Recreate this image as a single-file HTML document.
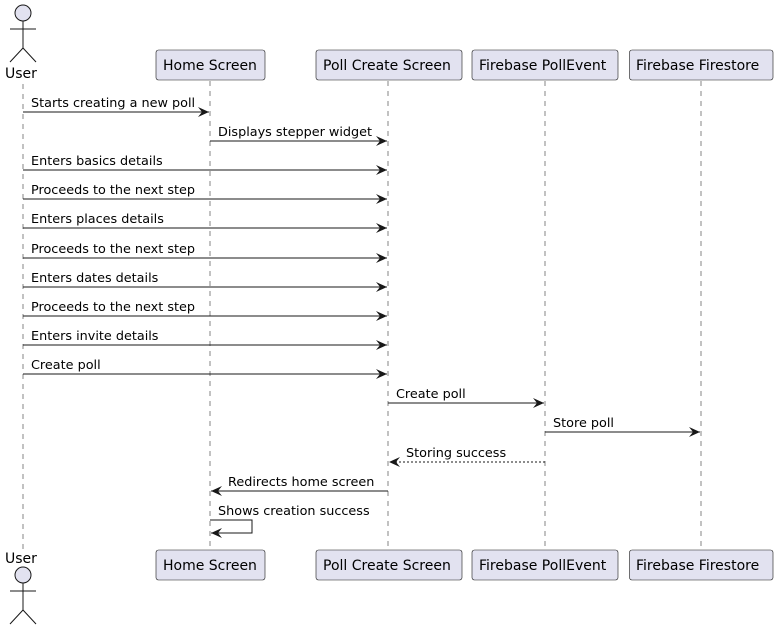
<!DOCTYPE html>
<html><head><meta charset="utf-8"><style>
html,body{margin:0;padding:0;background:#fff;}
svg{display:block;}
text{font-family:"DejaVu Sans","Liberation Sans",sans-serif;font-size:12.8px;fill:#000;}
</style></head><body>
<svg width="778" height="631" viewBox="0 0 778 631" xmlns="http://www.w3.org/2000/svg">
<defs>
<marker id="a" markerWidth="12" markerHeight="10" refX="11" refY="5" orient="auto" markerUnits="userSpaceOnUse">
<path d="M0,0 L11,5 L0,10 L4,5 Z" fill="#181818"/>
</marker>
</defs>
<g stroke="#666" stroke-width="0.8" stroke-dasharray="5,5" fill="none">
<line x1="23" y1="84" x2="23" y2="550"/>
<line x1="210" y1="81" x2="210" y2="550"/>
<line x1="388" y1="81" x2="388" y2="550"/>
<line x1="545" y1="81" x2="545" y2="550"/>
<line x1="701" y1="81" x2="701" y2="550"/>
</g>
<g fill="#E2E2F0" stroke="#181818" stroke-width="0.6">
<rect x="156" y="50" width="109" height="30" rx="2.5"/>
<rect x="316" y="50" width="146" height="30" rx="2.5"/>
<rect x="472" y="50" width="146" height="30" rx="2.5"/>
<rect x="629.5" y="50" width="143.5" height="30" rx="2.5"/>
<rect x="156" y="550" width="109" height="30" rx="2.5"/>
<rect x="316" y="550" width="146" height="30" rx="2.5"/>
<rect x="472" y="550" width="146" height="30" rx="2.5"/>
<rect x="629.5" y="550" width="143.5" height="30" rx="2.5"/>
</g>
<g>
<text x="163" y="70" style="font-size:14px">Home Screen</text>
<text x="323" y="70" style="font-size:14px">Poll Create Screen</text>
<text x="479" y="70" style="font-size:14px">Firebase PollEvent</text>
<text x="636" y="70" style="font-size:14px">Firebase Firestore</text>
<text x="163" y="570" style="font-size:14px">Home Screen</text>
<text x="323" y="570" style="font-size:14px">Poll Create Screen</text>
<text x="479" y="570" style="font-size:14px">Firebase PollEvent</text>
<text x="636" y="570" style="font-size:14px">Firebase Firestore</text>
<text x="5" y="78" style="font-size:14px">User</text>
<text x="5" y="563" style="font-size:14px">User</text>
</g>
<g stroke="#181818" stroke-width="1" fill="none">
<circle cx="23" cy="13" r="8" fill="#E2E2F0"/>
<line x1="23" y1="21" x2="23" y2="48"/><line x1="10" y1="29" x2="36" y2="29"/>
<line x1="23" y1="48" x2="10" y2="62"/><line x1="23" y1="48" x2="36" y2="62"/>
<circle cx="23" cy="575" r="8" fill="#E2E2F0"/>
<line x1="23" y1="583" x2="23" y2="610"/><line x1="10" y1="591" x2="36" y2="591"/>
<line x1="23" y1="610" x2="10" y2="624"/><line x1="23" y1="610" x2="36" y2="624"/>
</g>
<g stroke="#181818" stroke-width="1" fill="none" marker-end="url(#a)">
<line x1="23" y1="112" x2="209" y2="112"/>
<line x1="210" y1="141" x2="387" y2="141"/>
<line x1="23" y1="170" x2="387" y2="170"/>
<line x1="23" y1="199" x2="387" y2="199"/>
<line x1="23" y1="228" x2="387" y2="228"/>
<line x1="23" y1="258" x2="387" y2="258"/>
<line x1="23" y1="287" x2="387" y2="287"/>
<line x1="23" y1="316" x2="387" y2="316"/>
<line x1="23" y1="345" x2="387" y2="345"/>
<line x1="23" y1="374" x2="387" y2="374"/>
<line x1="388" y1="403" x2="544" y2="403"/>
<line x1="545" y1="432" x2="700" y2="432"/>
<line x1="545" y1="462" x2="389" y2="462" stroke-dasharray="2,2"/>
<line x1="388" y1="491" x2="211" y2="491"/>
<polyline points="210,520 252,520 252,533 211,533"/>
</g>
<text x="31" y="107">Starts creating a new poll</text>
<text x="218" y="136">Displays stepper widget</text>
<text x="31" y="165">Enters basics details</text>
<text x="31" y="194">Proceeds to the next step</text>
<text x="31" y="223">Enters places details</text>
<text x="31" y="253">Proceeds to the next step</text>
<text x="31" y="282">Enters dates details</text>
<text x="31" y="311">Proceeds to the next step</text>
<text x="31" y="340">Enters invite details</text>
<text x="31" y="369">Create poll</text>
<text x="396" y="398">Create poll</text>
<text x="553" y="427">Store poll</text>
<text x="406" y="457">Storing success</text>
<text x="228" y="486">Redirects home screen</text>
<text x="218" y="515">Shows creation success</text>
</svg>
</body></html>
